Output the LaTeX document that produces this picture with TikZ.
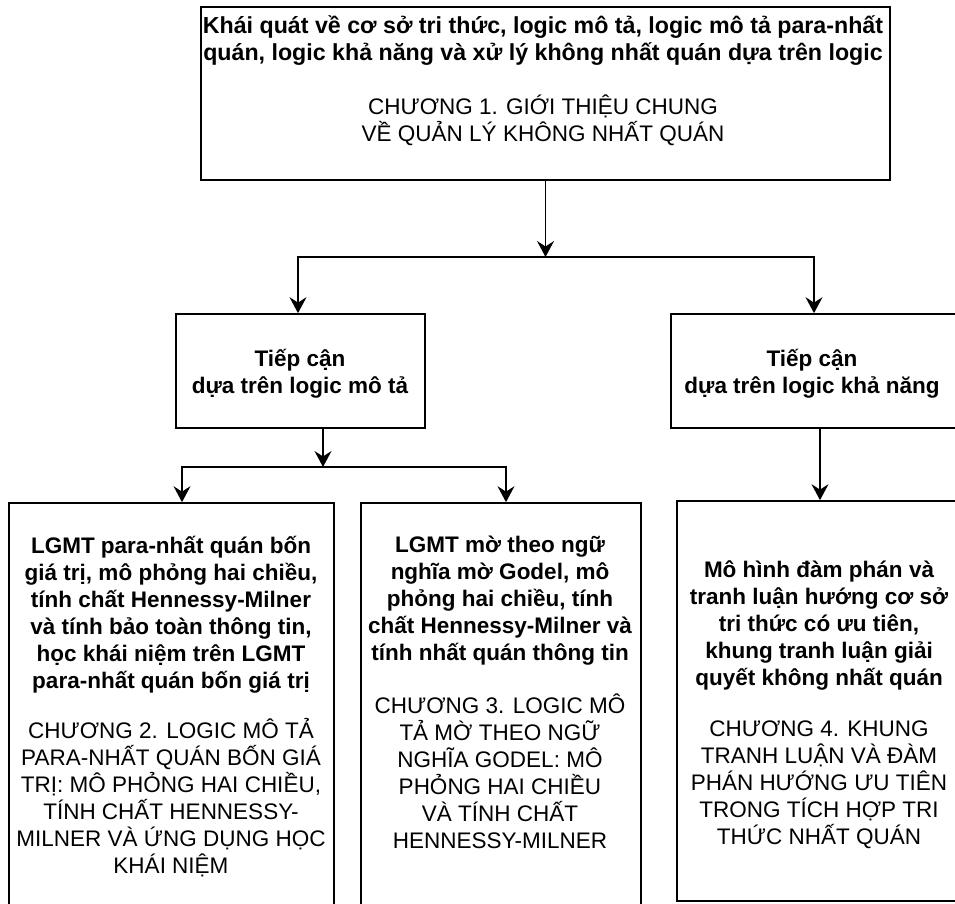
\documentclass[tikz,border=0pt]{standalone}
\usepackage{fontspec}
\setmainfont{Liberation Sans}
\usetikzlibrary{arrows.meta}
\newcommand{\mylines}[2][420pt]{\parbox[t]{#1}{\centering #2}}
\begin{document}
\begin{tikzpicture}[x=1pt,y=-1pt,
  box/.style={draw=black, line width=1.7pt, rectangle, inner sep=0pt},
  conn/.style={draw=black, line width=1.4pt, line join=miter},
  arr/.style={conn, -{Stealth[length=16pt,width=17pt,inset=5.5pt]}},
  txt/.style={inner sep=0pt, anchor=base, font=\fontsize{22.5pt}{27pt}\selectfont},
  bigtxt/.style={txt, font=\fontsize{23.2pt}{27.5pt}\selectfont},
]
\useasboundingbox (0,0) rectangle (955,903);
\begin{scope}
\clip (0,0) rectangle (955,903);
% boxes
\node[box, minimum width=689pt, minimum height=173pt] (top) at (545.5,93.5) {};
\node[box, minimum width=249pt, minimum height=114pt] (midL) at (300.5,371) {};
\node[box, minimum width=286pt, minimum height=114pt] (midR) at (814,371) {};
\node[box, minimum width=325pt, minimum height=427pt] (box1) at (171.5,716.5) {};
\node[box, minimum width=280pt, minimum height=427pt] (box2) at (501,716.5) {};
\node[box, minimum width=284pt, minimum height=400pt] (box3) at (819,701) {};
% texts
\node[bigtxt] (t0b) at (543,33) {\mylines[760pt]{\bfseries Khái quát về cơ sở tri thức, logic mô tả, logic mô tả para-nhất\\quán, logic khả năng và xử lý không nhất quán dựa trên logic}};
\node[txt] (t0r) at (543,114) {\mylines[760pt]{CHƯƠNG 1. GIỚI THIỆU CHUNG\\VỀ QUẢN LÝ KHÔNG NHẤT QUÁN}};
\node[txt] (tLb) at (300,366) {\mylines{\bfseries Tiếp cận\\dựa trên logic mô tả}};
\node[txt] (tRb) at (812,366) {\mylines{\bfseries Tiếp cận\\dựa trên logic khả năng}};
\node[txt] (t1b) at (171,553) {\mylines{\bfseries LGMT para-nhất quán bốn\\giá trị, mô phỏng hai chiều,\\tính chất Hennessy-Milner\\và tính bảo toàn thông tin,\\học khái niệm trên LGMT\\para-nhất quán bốn giá trị}};
\node[txt] (t1r) at (171,738) {\mylines{CHƯƠNG 2. LOGIC MÔ TẢ\\PARA-NHẤT QUÁN BỐN GIÁ\\TRỊ: MÔ PHỎNG HAI CHIỀU,\\TÍNH CHẤT HENNESSY-\\MILNER VÀ ỨNG DỤNG HỌC\\KHÁI NIỆM}};
\node[txt] (t2b) at (500,552) {\mylines{\bfseries LGMT mờ theo ngữ\\nghĩa mờ Godel, mô\\phỏng hai chiều, tính\\chất Hennessy-Milner và\\tính nhất quán thông tin}};
\node[txt] (t2r) at (500,713) {\mylines{CHƯƠNG 3. LOGIC MÔ\\TẢ MỜ THEO NGỮ\\NGHĨA GODEL: MÔ\\PHỎNG HAI CHIỀU\\VÀ TÍNH CHẤT\\HENNESSY-MILNER}};
\node[txt] (t3b) at (819,577) {\mylines{\bfseries Mô hình đàm phán và\\tranh luận hướng cơ sở\\tri thức có ưu tiên,\\khung tranh luận giải\\quyết không nhất quán}};
\node[txt] (t3r) at (819,736) {\mylines{CHƯƠNG 4. KHUNG\\TRANH LUẬN VÀ ĐÀM\\PHÁN HƯỚNG ƯU TIÊN\\TRONG TÍCH HỢP TRI\\THỨC NHẤT QUÁN}};
% connectors
\coordinate (j1) at (545.5,257);
\coordinate (jL) at (298,257);
\coordinate (jR) at (814,257);
\draw[arr] (top.south) -- (j1);
\draw[arr] (j1) -- (jL) -- (jL |- midL.north);
\draw[arr] (j1) -- (jR) -- (jR |- midR.north);
\coordinate (j2) at (323,467);
\coordinate (j2L) at (182,467);
\coordinate (j2R) at (506,467);
\draw[arr] (midL.south -| j2) -- (j2);
\draw[arr] (j2) -- (j2L) -- (j2L |- box1.north);
\draw[arr] (j2) -- (j2R) -- (j2R |- box2.north);
\coordinate (c3) at (820,0);
\draw[arr] (midR.south -| c3) -- (box3.north -| c3);
\end{scope}
\end{tikzpicture}
\end{document}
